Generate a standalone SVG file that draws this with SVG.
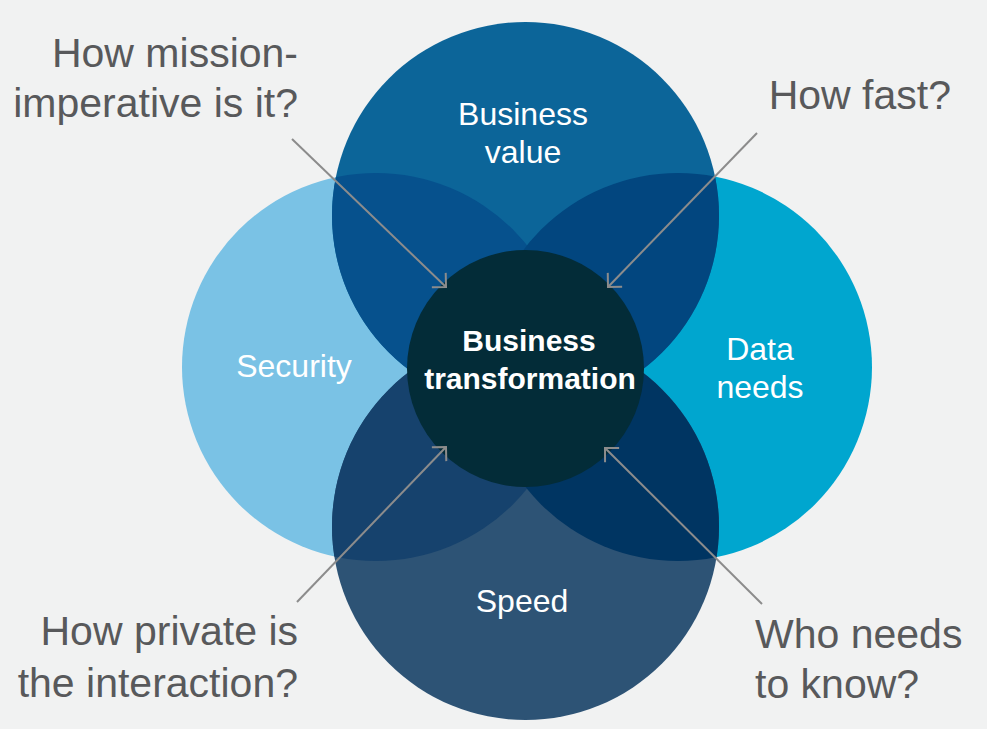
<svg xmlns="http://www.w3.org/2000/svg" width="987" height="729" viewBox="0 0 987 729">
  <style>
    .lbl { font-family: "Liberation Sans", Arial, sans-serif; fill: #ffffff; font-size: 32px; text-anchor: middle; }
    .ctr { font-family: "Liberation Sans", Arial, sans-serif; fill: #ffffff; font-size: 30px; font-weight: bold; text-anchor: middle; }
    .q { font-family: "Liberation Sans", Arial, sans-serif; fill: #58595b; font-size: 41px; }
    .conn { stroke: #8c8c8c; stroke-width: 2; fill: none; marker-end: url(#arr); }
  </style>
  <defs>
    <marker id="arr" markerUnits="userSpaceOnUse" markerWidth="24" markerHeight="24" refX="0" refY="0" viewBox="-12 -12 24 24" orient="auto">
      <path d="M-10,-10 L0,0 L-10,10" fill="none" stroke="#8c8c8c" stroke-width="2"/>
    </marker>
    <clipPath id="cTop"><circle cx="525.5" cy="215.5" r="193.5"/></clipPath>
    <clipPath id="cBot"><circle cx="525.5" cy="526.5" r="193.5"/></clipPath>
  </defs>
  <rect x="0" y="0" width="987" height="729" fill="#f1f2f2"/>

  <g id="security">
    <circle cx="376" cy="367" r="194" fill="#7ac2e5"/>
  </g>
  <g id="data-needs">
    <circle cx="678" cy="367" r="194" fill="#00a6cf"/>
  </g>
  <g id="business-value">
    <circle cx="525.5" cy="215.5" r="193.5" fill="#0c6599"/>
    <circle cx="376" cy="367" r="194" fill="#06518d" clip-path="url(#cTop)"/>
    <circle cx="678" cy="367" r="194" fill="#02467f" clip-path="url(#cTop)"/>
  </g>
  <g id="speed">
    <circle cx="525.5" cy="526.5" r="193.5" fill="#2d5375"/>
    <circle cx="376" cy="367" r="194" fill="#16426d" clip-path="url(#cBot)"/>
    <circle cx="678" cy="367" r="194" fill="#003562" clip-path="url(#cBot)"/>
  </g>
  <g id="business-transformation">
    <circle cx="525.5" cy="368.5" r="118.5" fill="#032c38"/>
  </g>

  <g id="labels">
    <text class="lbl" x="523" y="125">Business</text>
    <text class="lbl" x="523" y="163">value</text>
    <text class="lbl" x="294" y="377">Security</text>
    <text class="lbl" x="760" y="360">Data</text>
    <text class="lbl" x="760" y="398">needs</text>
    <text class="lbl" x="522" y="612">Speed</text>
    <text class="ctr" x="529" y="351">Business</text>
    <text class="ctr" x="530" y="389">transformation</text>
  </g>

  <g id="connectors">
    <line class="conn" x1="292" y1="139" x2="446" y2="287"/>
    <line class="conn" x1="757" y1="133" x2="608" y2="287"/>
    <line class="conn" x1="297" y1="602" x2="446" y2="447"/>
    <line class="conn" x1="762" y1="604" x2="605" y2="448"/>
  </g>

  <g id="questions">
    <text class="q" x="298" y="67" text-anchor="end">How mission-</text>
    <text class="q" x="298" y="117" text-anchor="end">imperative is it?</text>
    <text class="q" x="951" y="109" text-anchor="end">How fast?</text>
    <text class="q" x="298" y="645" text-anchor="end">How private is</text>
    <text class="q" x="298" y="697" text-anchor="end">the interaction?</text>
    <text class="q" x="755" y="648">Who needs</text>
    <text class="q" x="755" y="698">to know?</text>
  </g>
</svg>
